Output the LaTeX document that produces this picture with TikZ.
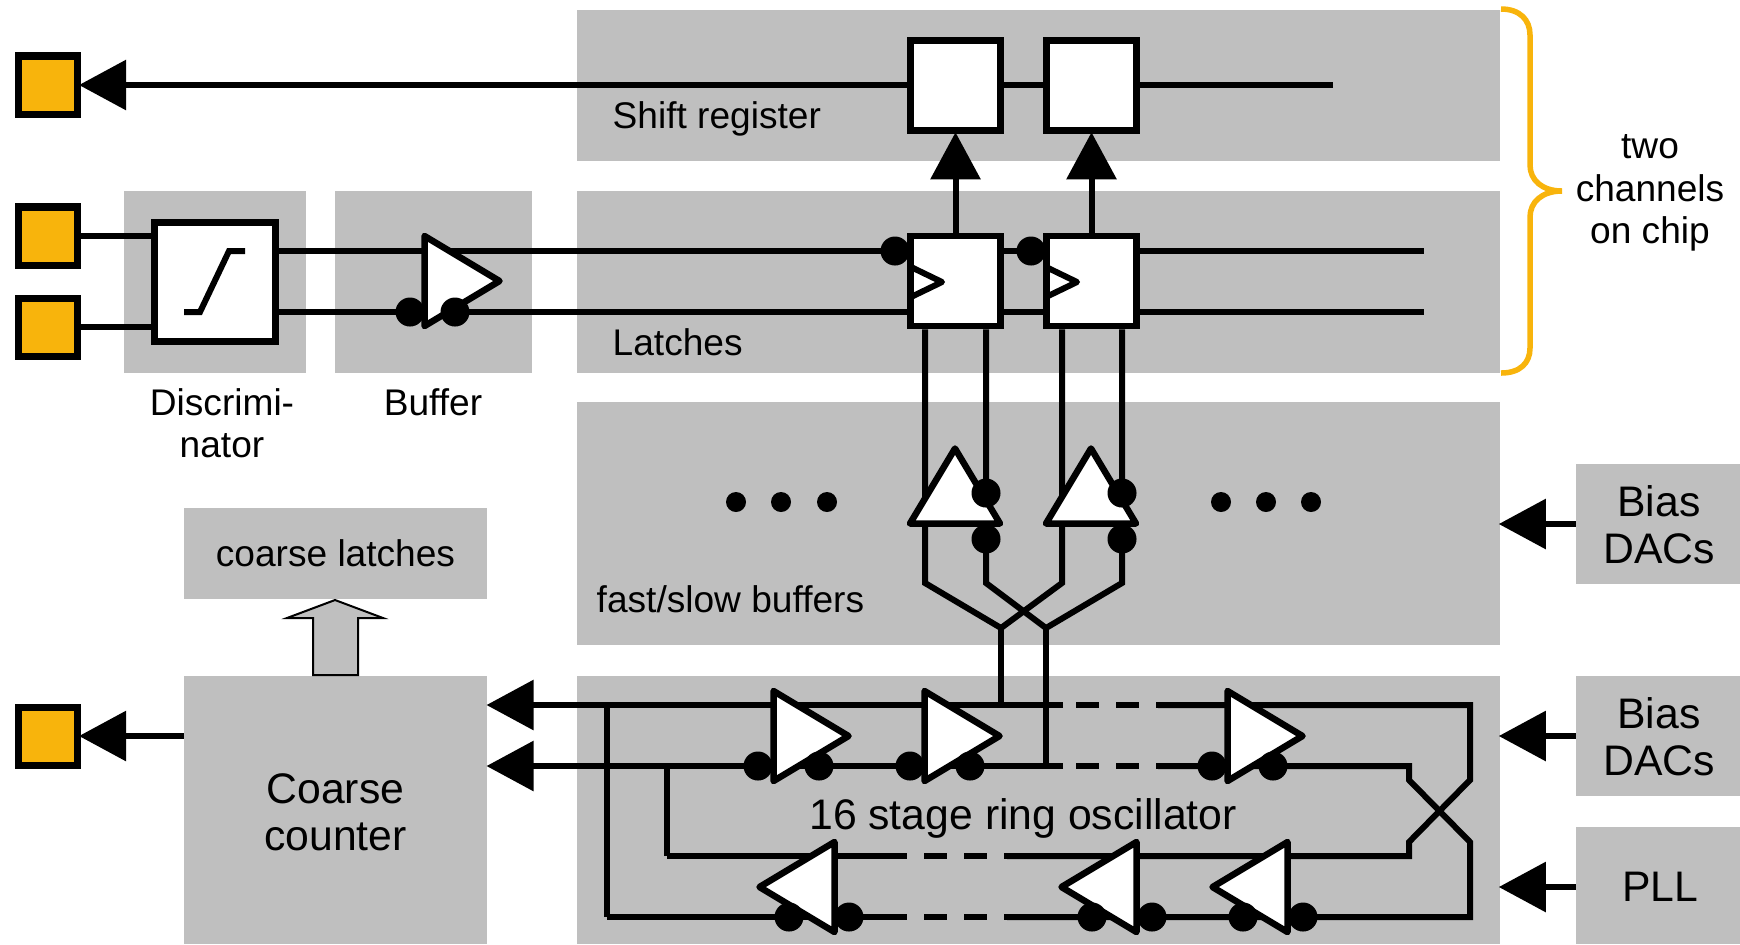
\documentclass[tikz,border=0pt]{standalone}
\usepackage{fontspec}
\setmainfont{Liberation Sans}
\usepackage{tikz}
\usetikzlibrary{arrows.meta,calc}
\definecolor{padorange}{HTML}{F8B40C}
\definecolor{blockgray}{HTML}{BFBFBF}
\def\sm{\fontsize{10.55}{12}\selectfont}
\def\bg{\fontsize{12.15}{13.5}\selectfont}
\tikzset{
	block/.style={fill=blockgray,inner sep=0,outer sep=0},
	pad/.style={draw,fill=padorange,line width=.7mm,inner sep=0,minimum size=.58cm},
	wbox/.style={draw,fill=white,line width=.65mm,inner sep=0,minimum size=.9cm},
	wire/.style={line width=.6mm},
	dashwire/.style={line width=.6mm,dash pattern=on .23cm off .17cm},
	sig/.style={line width=.6mm,shorten >=-.15mm,-{Triangle[length=4.7mm,width=4.9mm]}},
	dotb/.style={circle,fill=black,inner sep=0,minimum size=.29cm},
	dots/.style={circle,fill=black,inner sep=0,minimum size=.2cm},
	amp/.pic={\draw[line width=.65mm,fill=white,line join=round] (-37.5,-45) -- (37.5,0) -- (-37.5,45) -- cycle;},
}
\begin{document}
\begin{tikzpicture}[x=.01cm,y=-.01cm]
	\useasboundingbox (0,0) rectangle (1740,944);
	% gray blocks
	\node[block,minimum width=9.23cm,minimum height=1.51cm] (shift) at (1038.5,85.5) {};
	\node[block,minimum width=9.23cm,minimum height=1.82cm] (latches) at (1038.5,282) {};
	\node[block,minimum width=9.23cm,minimum height=2.43cm] (fast) at (1038.5,523.5) {};
	\node[block,minimum width=9.23cm,minimum height=2.68cm] (ring) at (1038.5,810) {};
	\node[block,minimum width=1.82cm,minimum height=1.82cm] (discblk) at (215,282) {};
	\node[block,minimum width=1.97cm,minimum height=1.82cm] (bufblk) at (433.5,282) {};
	\node[block,minimum width=3.03cm,minimum height=.91cm,font=\sm] (clatch) at (335.5,553.5) {coarse latches};
	\node[block,minimum width=3.03cm,minimum height=2.68cm] (counter) at (335.5,810) {};
	\node[block,minimum width=1.64cm,minimum height=1.2cm] (bias1) at (1658,524) {};
	\node[block,minimum width=1.64cm,minimum height=1.2cm] (bias2) at (1658,736) {};
	\node[block,minimum width=1.64cm,minimum height=1.17cm] (pll) at (1658,885.5) {};
	% pads
	\node[pad] (pad1) at (48,85) {};
	\node[pad] (pad2) at (48,236) {};
	\node[pad] (pad3) at (48,327) {};
	\node[pad] (pad4) at (48,736) {};
	% rails
	\coordinate (railA) at (0,251);
	\coordinate (railB) at (0,312);
	\coordinate (topR) at (0,705);
	\coordinate (lowR) at (0,766);
	\coordinate (retA) at (0,856);
	\coordinate (retB) at (0,917);
	\coordinate (plly) at (0,887);
	\coordinate (regend) at (1333,85);
	\coordinate (endA) at (1424,251);
	\coordinate (endB) at (1424,312);
	\coordinate (tapA) at (1001,628);
	\coordinate (tapB) at (1046,628);
	\coordinate (a1) at (925,583);
	\coordinate (b1) at (986,583);
	\coordinate (a2) at (1062,583);
	\coordinate (b2) at (1122,583);
	\coordinate (tipA) at (488,705);
	\coordinate (tipB) at (488,766);
	\coordinate (left1) at (607,705);
	\coordinate (left2) at (667,766);
	\coordinate (xa) at (1409,780);
	\coordinate (xb) at (1470,780);
	\coordinate (xc) at (1409,842);
	\coordinate (xd) at (1470,842);
	% white boxes
	\draw[sig] (regend) -- (pad1.east);
	\draw[wire] (pad2.east) -- (pad2.east -| discblk.center);
	\draw[wire] (pad3.east) -- (pad3.east -| discblk.center);
	\draw[wire] (discblk.center |- railA) -- (endA);
	\draw[wire] (discblk.center |- railB) -- (endB);
	\node[wbox,minimum width=1.21cm,minimum height=1.19cm] (disc) at (215,282) {};
	\draw[wire] (184,312) -- (200,312) -- (229,251) -- (245,251);
	\node[wbox] (reg1) at (955.5,85.5) {};
	\node[wbox] (reg2) at (1091.5,85.5) {};
	\node[wbox] (lat1) at (955.5,281) {};
	\node[wbox] (lat2) at (1091.5,281) {};
	\draw[sig] (lat1.north) -- (reg1.south);
	\draw[sig] (lat2.north) -- (reg2.south);
	\draw[wire,line join=round] (911,267) -- (942,282) -- (911,297);
	\draw[wire,line join=round] (1046,267) -- (1077,282) -- (1046,297);
	% fast/slow buffers
	\draw[wire] (lat1.south -| a1) -- (a1) -- (tapA);
	\draw[wire] (lat1.south -| b1) -- (b1) -- (tapB);
	\draw[wire] (lat2.south -| a2) -- (a2) -- (tapA);
	\draw[wire] (lat2.south -| b2) -- (b2) -- (tapB);
	\draw[wire] (tapA) -- (tapA |- topR);
	\draw[wire] (tapB) -- (tapB |- lowR);
	\pic[rotate=90] at (955,486) {amp};
	\pic[rotate=90] at (1091,486) {amp};
	% ring oscillator
	\draw[wire] (left1 |- retB) -- (left1);
	\draw[wire] (left2 |- retA) -- (left2);
	\draw[sig] (1063,705) -- (tipA);
	\draw[sig] (1063,766) -- (tipB);
	\draw[dashwire] (1076,705) -- (1158,705);
	\draw[dashwire] (1076,766) -- (1158,766);
	\draw[dashwire] (924,856) -- (1007,856);
	\draw[dashwire] (924,917) -- (1007,917);
	\draw[wire] (1158,705) -- (1470,705) -- (xb) -- (xc) -- (1409,856) -- (1007,856);
	\draw[wire] (1158,766) -- (1409,766) -- (xa) -- (xd) -- (1470,917) -- (1007,917);
	\draw[wire] (left2 |- retA) -- (907,856);
	\draw[wire] (left1 |- retB) -- (907,917);
	\pic at (811,736) {amp};
	\pic at (962,736) {amp};
	\pic at (1265,736) {amp};
	\pic[rotate=180] at (797,887) {amp};
	\pic[rotate=180] at (1099,887) {amp};
	\pic[rotate=180] at (1250,887) {amp};
	\pic at (462,281) {amp};
	% dots
	\node[dotb] (d1) at (410,312) {};
	\node[dotb] (d2) at (455,312) {};
	\node[dotb] (d3) at (895,251) {};
	\node[dotb] (d4) at (1031,251) {};
	\node[dotb] (d5) at (986,493) {};
	\node[dotb] (d6) at (986,539) {};
	\node[dotb] (d7) at (1122,493) {};
	\node[dotb] (d8) at (1122,539) {};
	\node[dotb] (d9) at (758,766) {};
	\node[dotb] (d10) at (819,766) {};
	\node[dotb] (d11) at (910,766) {};
	\node[dotb] (d12) at (970,766) {};
	\node[dotb] (d13) at (1212,766) {};
	\node[dotb] (d14) at (1273,766) {};
	\node[dotb] (d15) at (789,917) {};
	\node[dotb] (d16) at (849,917) {};
	\node[dotb] (d17) at (1092,917) {};
	\node[dotb] (d18) at (1152,917) {};
	\node[dotb] (d19) at (1243,917) {};
	\node[dotb] (d20) at (1303,917) {};
	\node[dots] (e1) at (736,502) {};
	\node[dots] (e2) at (781,502) {};
	\node[dots] (e3) at (827,502) {};
	\node[dots] (e4) at (1221,502) {};
	\node[dots] (e5) at (1266,502) {};
	\node[dots] (e6) at (1311,502) {};
	% inputs
	\draw[sig] (counter.west |- pad4) -- (pad4.east);
	\draw[sig] (bias1.west) -- (shift.east |- bias1);
	\draw[sig] (bias2.west) -- (shift.east |- bias2);
	\draw[sig] (pll.west |- plly) -- (shift.east |- plly);
	\draw[fill=blockgray,line width=.2mm] (313,675) -- (313,618) -- (287,618) -- (335,600) -- (383,618) -- (358,618) -- (358,675) -- cycle;
	\draw[padorange,line width=.55mm] (1501,9) .. controls (1520,9) and (1530,20) .. (1530,35) -- (1530,165) .. controls (1530,180) and (1542,191) .. (1562,191) .. controls (1542,191) and (1530,202) .. (1530,217) -- (1530,348) .. controls (1530,363) and (1520,373) .. (1501,373);
	% labels
	\node[anchor=west,inner sep=0,font=\sm] (shiftlbl) at (612,119) {Shift register};
	\node[anchor=west,inner sep=0,font=\sm] (latlbl) at (612,342) {Latches};
	\node[anchor=west,inner sep=0,font=\sm] (fastlbl) at (596,599) {fast/slow buffers};
	\node[align=center,inner sep=0,font=\sm] (disclbl) at (222,423) {Discrimi-\\nator};
	\node[inner sep=0,font=\sm] (buflbl) at (433,402) {Buffer};
	\node[inner sep=0,font=\bg] (ringlbl) at (1023,818) {16 stage ring oscillator};
	\node[align=center,inner sep=0,font=\sm] (chlbl) at (1650,193) {two\\channels\\on chip};
	\node[align=center,inner sep=0,font=\bg] (ctrlbl) at (335.5,812) {Coarse\\counter};
	\node[align=center,inner sep=0,font=\bg] (b1lbl) at (1659,524.5) {Bias\\DACs};
	\node[align=center,inner sep=0,font=\bg] (b2lbl) at (1659,736.5) {Bias\\DACs};
	\node[inner sep=0,font=\bg] (plllbl) at (1660,887) {PLL};
\end{tikzpicture}
\end{document}
